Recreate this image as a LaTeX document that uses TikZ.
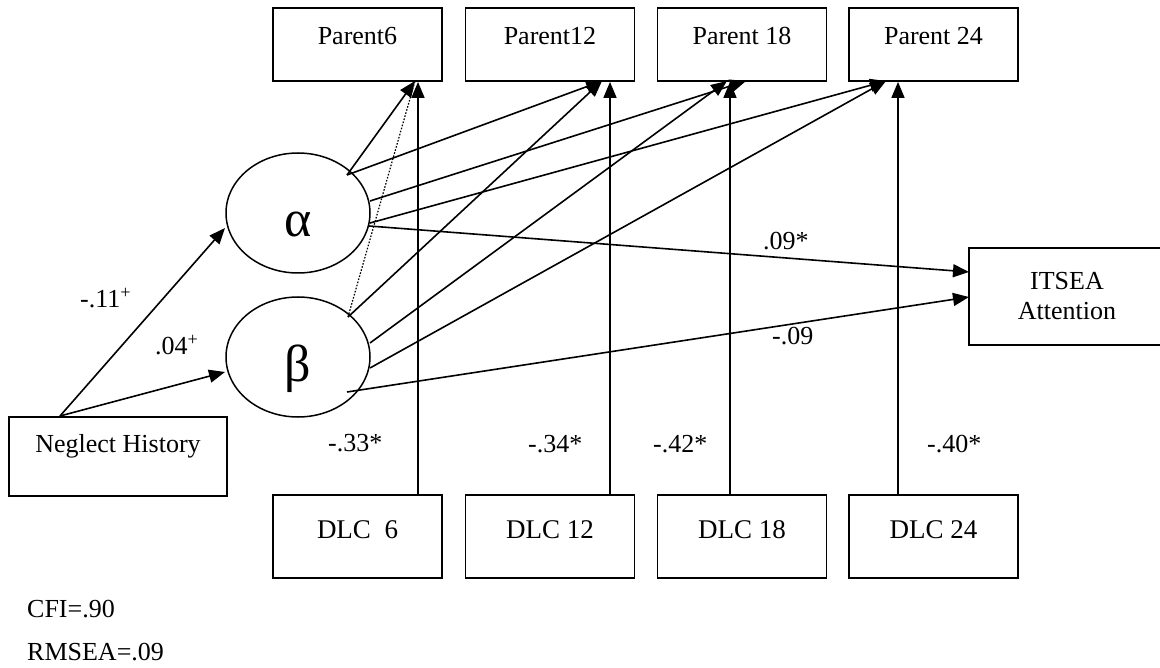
\documentclass[tikz,border=0pt]{standalone}
\usepackage{fontspec}
\setmainfont{Liberation Serif}
\usetikzlibrary{arrows.meta,shapes.geometric}
\begin{document}
\begin{tikzpicture}[x=1pt,y=-1pt,
  box/.style={draw, line width=1.8pt, rectangle, inner sep=0pt, font=\fontsize{26}{30}\selectfont},
  pbox/.style={box, minimum width=169pt, minimum height=73pt, text height=18pt, text depth=17pt},
  dbox/.style={box, minimum width=169pt, minimum height=83pt, text height=20pt, text depth=17pt, font=\fontsize{27}{30}\selectfont},
  lat/.style={draw, ellipse, line width=1.5pt, inner sep=0pt, minimum width=144pt, minimum height=120pt, font=\fontsize{52}{56}\selectfont},
  arr/.style={line width=1.6pt, -{Triangle[length=16pt,width=13pt]}},
  dotarr/.style={line width=1.2pt, dash pattern=on 1.6pt off 1.6pt},
  lab/.style={inner sep=0pt, anchor=base west, font=\fontsize{26}{30}\selectfont}]
\useasboundingbox (0,0) rectangle (1160,668);
\clip (0,0) rectangle (1160,668);
% boxes
\node[pbox] (p6)  at (357.5,44.5) {Parent6};
\node[pbox] (p12) at (550,44.5) {Parent12};
\node[pbox] (p18) at (742,44.5) {Parent 18};
\node[pbox] (p24) at (933.5,44.5) {Parent 24};
\node[dbox] (d6)  at (357.5,536.5) {DLC\ \ 6};
\node[dbox] (d12) at (550,536.5) {DLC 12};
\node[dbox] (d18) at (742,536.5) {DLC 18};
\node[dbox] (d24) at (933.5,536.5) {DLC 24};
\node[box, minimum width=218pt, minimum height=79pt, text height=18pt, text depth=27pt] (ng) at (118,456.5) {Neglect History};
\node[box, minimum width=196pt, minimum height=97pt, align=center] (it) at (1067,296.5) {ITSEA\\Attention};
% latent ellipses
\node[lat, text height=48pt, text depth=0pt] (a) at (298,213) {α};
\node[lat, text height=60pt, text depth=10pt] (b) at (298,357) {β};
% connector points
\coordinate (ngT) at (60,416);
\coordinate (aIn) at (225,228);
\coordinate (bIn) at (225,372);
\coordinate (aP) at (347,175);
\coordinate (aR1) at (370,201);
\coordinate (aR2) at (370,223);
\coordinate (aR3) at (369,226);
\coordinate (bT) at (348,317);
\coordinate (bR1) at (370,343);
\coordinate (bR2) at (370,368);
\coordinate (bR3) at (347,392);
\coordinate (t6) at (415,81);
\coordinate (t12) at (602,81);
\coordinate (t18b) at (727,81);
\coordinate (t18a) at (746,81);
\coordinate (t24) at (886,81);
\coordinate (itA) at (969,272);
\coordinate (itB) at (969,297);
\coordinate (v6) at (418,0);
\coordinate (v12) at (610,0);
\coordinate (v18) at (730,0);
\coordinate (v24) at (898,0);
% neglect paths
\draw[arr] (ngT) -- (aIn);
\draw[arr] (ngT) -- (bIn);
% alpha paths
\draw[arr] (aP) -- (t6);
\draw[arr] (aP) -- (t12);
\draw[arr] (aR1) -- (t18a);
\draw[arr] (aR2) -- (t24);
\draw[arr] (aR3) -- (itA);
% beta paths
\draw[dotarr] (bT) -- (t6);
\draw[arr] (bT) -- (t12);
\draw[arr] (bR1) -- (t18b);
\draw[arr] (bR2) -- (t24);
\draw[arr] (bR3) -- (itB);
% DLC paths
\draw[arr] (d6.north -| v6) -- (p6.south -| v6);
\draw[arr] (d12.north -| v12) -- (p12.south -| v12);
\draw[arr] (d18.north -| v18) -- (p18.south -| v18);
\draw[arr] (d24.north -| v24) -- (p24.south -| v24);
% labels
\node[lab] (l1) at (80,308) {-.11\textsuperscript{+}};
\node[lab] (l2) at (155,355) {.04\textsuperscript{+}};
\node[lab] (l3) at (763,250) {.09*};
\node[lab] (l4) at (772,345) {-.09};
\node[lab] (l5) at (328,451) {-.33*};
\node[lab] (l6) at (528,452) {-.34*};
\node[lab] (l7) at (653,452) {-.42*};
\node[lab] (l8) at (927,452) {-.40*};
\node[lab] (fit1) at (27,617) {CFI=.90};
\node[lab] (fit2) at (27,660) {RMSEA=.09};
\end{tikzpicture}
\end{document}
